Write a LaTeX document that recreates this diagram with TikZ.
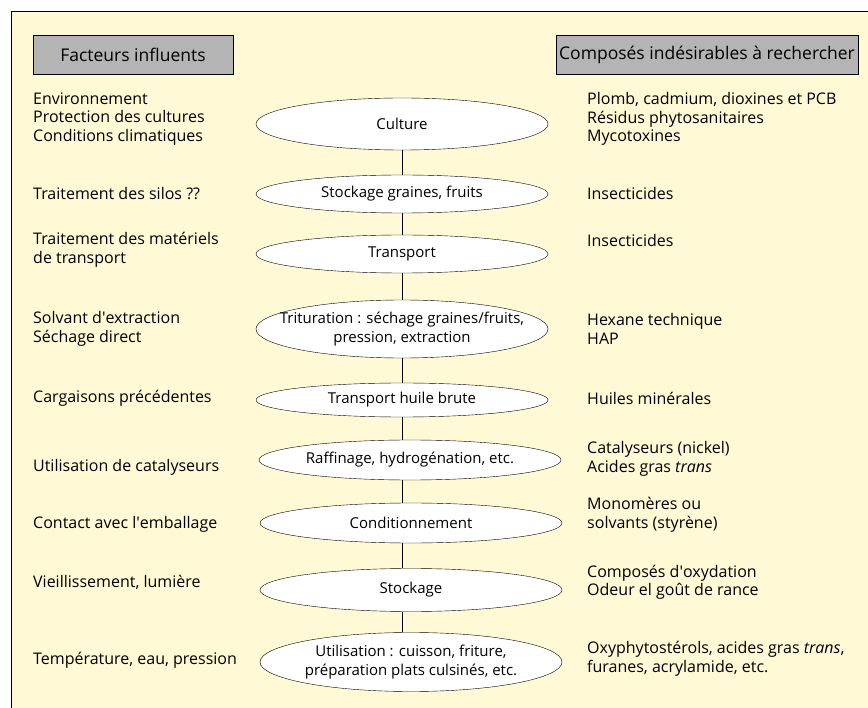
\documentclass[tikz,border=0pt]{standalone}
\usepackage{fontspec}
\setmainfont{Open Sans}
\usetikzlibrary{shapes.geometric}
\definecolor{cream}{RGB}{255,249,214}
\definecolor{headgray}{RGB}{180,180,180}
\newcommand{\apos}{\textquotesingle}

\begin{document}
\begin{tikzpicture}[
    x=1pt, y=-1pt,
    stage/.style={draw, ellipse, fill=white, inner sep=0pt, minimum width=292pt,
                  align=center, font=\fontsize{15}{19}\selectfont},
    head/.style={draw, fill=headgray, minimum height=39pt, font=\fontsize{17.5}{18}\selectfont},
    txt/.style={anchor=west, align=left, inner sep=0pt, font=\fontsize{16}{18.5}\selectfont}
]
\useasboundingbox (0,0) rectangle (868,708);
\fill[cream] (11,11) rectangle (868,708);
\draw (11,708) -- (11,11) -- (868,11);

\node[head, minimum width=200pt] (hfac) at (133,54.5) {Facteurs influents};
\node[head, minimum width=302pt] (hcomp) at (707,54.5) {Composés indésirables à rechercher};

% stages of the chain
\node[stage, minimum height=52pt] (culture) at (402,124) {Culture};
\node[stage, minimum height=38pt] (stockgr) at (402,194) {Stockage graines, fruits};
\node[stage, minimum height=38pt] (transp) at (402,254) {Transport};
\node[stage, minimum height=58pt, inner xsep=-19pt] (trit) at (402,329) {Trituration : séchage graines/fruits,\\pression, extraction};
\node[stage, minimum height=34pt] (thuile) at (402,400) {Transport huile brute};
\node[stage, minimum height=40pt, minimum width=302pt] (raff) at (410,460) {Raffinage, hydrogénation, etc.};
\node[stage, minimum height=40pt, minimum width=302pt] (cond) at (411,523) {Conditionnement};
\node[stage, minimum height=43pt, minimum width=302pt] (stock) at (411,590) {Stockage};
\node[stage, minimum height=59pt, minimum width=302pt] (util) at (411,662) {Utilisation : cuisson, friture,\\préparation plats culsinés, etc.};

\foreach \a/\b in {culture/stockgr, stockgr/transp, transp/trit, trit/thuile,
                   thuile/raff, raff/cond, cond/stock, stock/util}
  \draw (\a.south -| 402,0) -- (\b.north -| 402,0);

% factors
\node[txt] (fcult) at (33,119) {Environnement\\Protection des cultures\\Conditions climatiques};
\node[txt] (fsilo) at (33,194) {Traitement des silos ??};
\node[txt] (ftransp) at (33,250) {Traitement des matériels\\de transport};
\node[txt] (ftrit) at (33,329) {Solvant d\apos extraction\\Séchage direct};
\node[txt] (fcarg) at (33,398) {Cargaisons précédentes};
\node[txt] (fcata) at (33,467) {Utilisation de catalyseurs};
\node[txt] (femb) at (33,524) {Contact avec l\apos emballage};
\node[txt] (fvieil) at (33,582) {Vieillissement, lumière};
\node[txt] (ftemp) at (33,660) {Température, eau, pression};

% undesirable compounds
\node[txt] (ccult) at (587,119) {Plomb, cadmium, dioxines et PCB\\Résidus phytosanitaires\\Mycotoxines};
\node[txt] (csilo) at (587,194) {Insecticides};
\node[txt] (ctransp) at (587,241) {Insecticides};
\node[txt] (ctrit) at (587,329) {Hexane technique\\HAP};
\node[txt] (chuile) at (587,398) {Huiles minérales};
\node[txt] (ccata) at (587,459) {Catalyseurs (nickel)\\Acides gras \textit{trans}};
\node[txt] (cemb) at (587,515) {Monomères ou\\solvants (styrène)};
\node[txt] (cvieil) at (587,582.5) {Composés d\apos oxydation\\Odeur el goût de rance};
\node[txt] (ctemp) at (587,659) {Oxyphytostérols, acides gras \textit{trans},\\furanes, acrylamide, etc.};
\end{tikzpicture}
\end{document}
